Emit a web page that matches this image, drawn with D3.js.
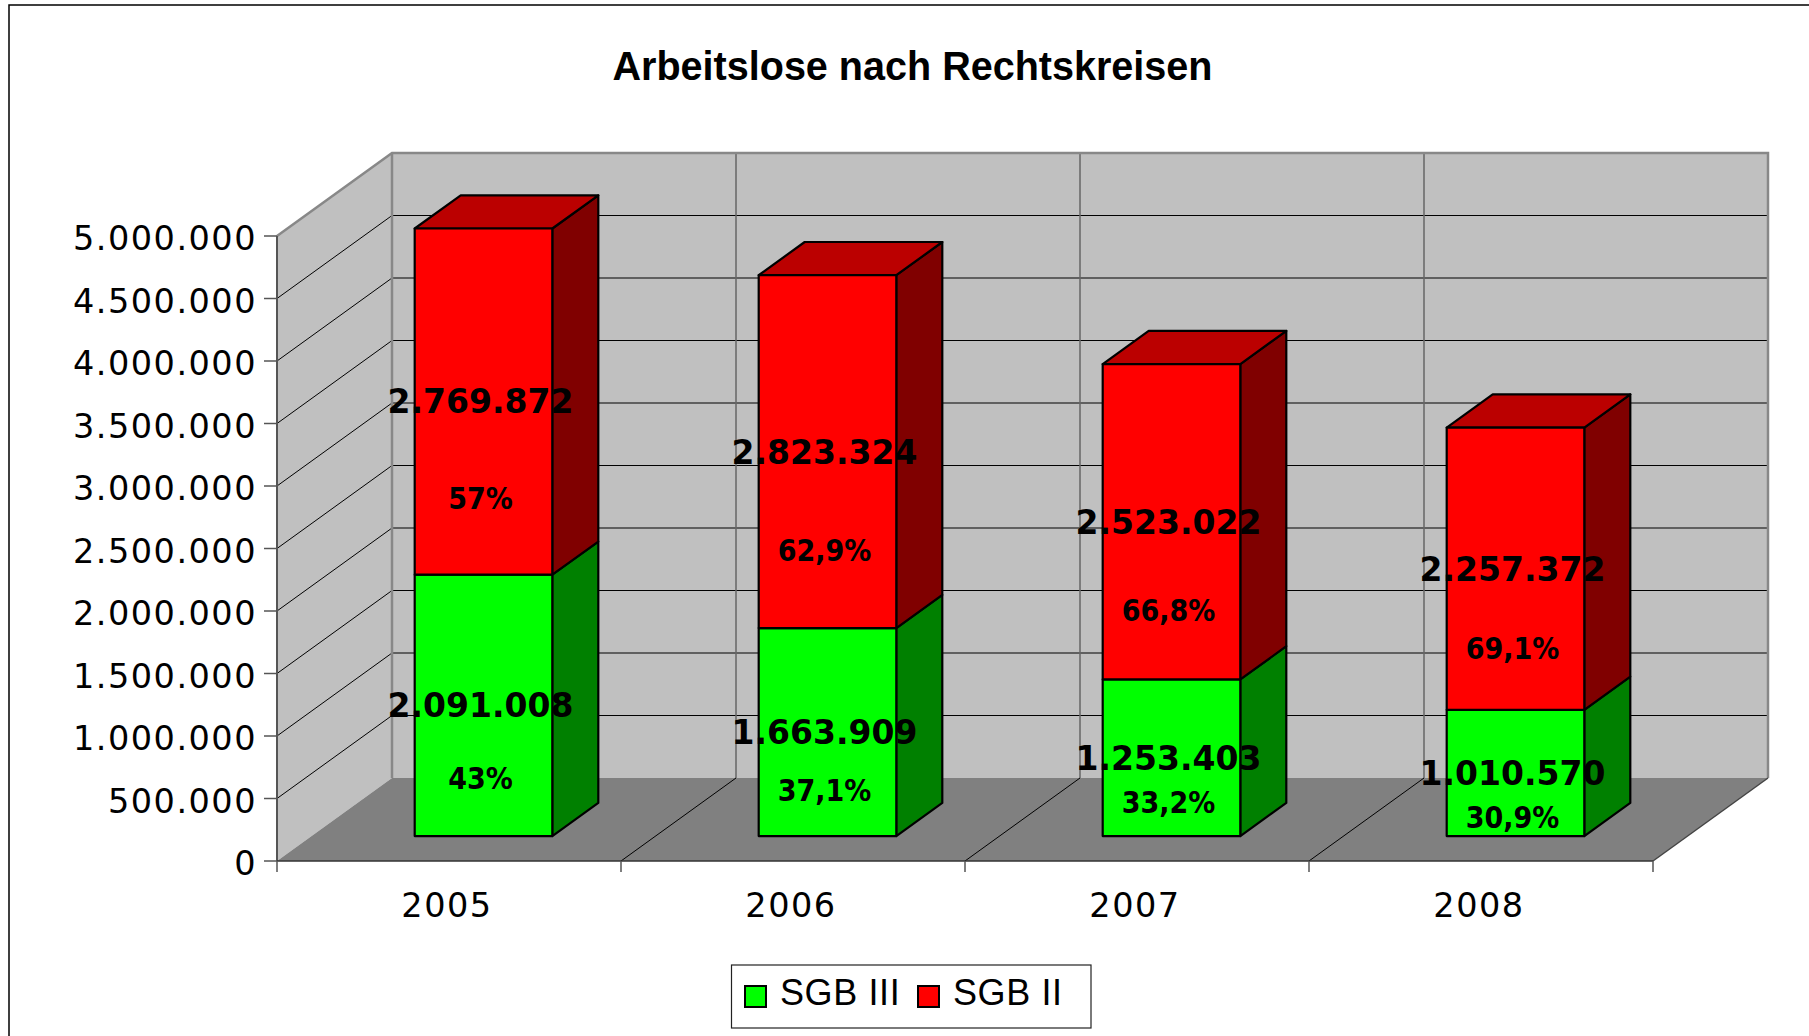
<!DOCTYPE html>
<html>
<head>
<meta charset="utf-8">
<title>Arbeitslose nach Rechtskreisen</title>
<script src="https://cdn.jsdelivr.net/npm/d3@7"></script>
<style>
  body { margin: 0; background: #fff; }
  svg { display: block; }
  .axis text { font-family: "DejaVu Sans", sans-serif; font-size: 33.5px; letter-spacing: 1.5px; fill: #000; }
  .val { font-family: "DejaVu Sans", sans-serif; font-weight: bold; font-size: 33px; fill: #000; }
  .pct { font-family: "DejaVu Sans", sans-serif; font-weight: bold; font-size: 30px; font-stretch: condensed; fill: #000; }
  .legend text { font-family: "Liberation Sans", Arial, sans-serif; font-size: 36px; letter-spacing: 0.6px; }
</style>
</head>
<body>
<div id="chart"></div>
<script>
var years = ["2005", "2006", "2007", "2008"];
var sgb3 = [2091008, 1663909, 1253403, 1010570];
var sgb2 = [2769872, 2823324, 2523022, 2257372];
var seriesNames = ["SGB III", "SGB II"];
var yTicks = d3.range(0, 5000001, 500000);

var W = 1809, H = 1036;
var DX = 115, DY = 83;          // depth offset of the back wall
var Z0 = 0.3, Z1 = 0.7;         // bar depth inside the floor

var de = d3.formatLocale({decimal: ",", thousands: ".", grouping: [3], currency: ["", " €"]});
var fmtNum = de.format(",d");
var fmtPct = de.format(".1~f");

var svg = d3.select("#chart").append("svg").attr("width", W).attr("height", H);

var x = d3.scaleBand().domain(years).range([277, 1653]).paddingInner(0.6).paddingOuter(0.3);
var y = d3.scaleLinear().domain([0, 5000000]).range([861, 236]);
var step = x.step();
var x0 = x.range()[0], x1 = x.range()[1];
var vMax = y.domain()[1];

function P(px, v, z) {
  return [px + z * DX, y(v) - z * DY];
}
function poly(pts) {
  return "M" + pts.map(function (p) { return p[0] + "," + p[1]; }).join("L") + "Z";
}
function line(a, b) {
  return "M" + a[0] + "," + a[1] + "L" + b[0] + "," + b[1];
}

// outer frame
svg.append("rect").attr("x", 9).attr("y", 5).attr("width", 1900).attr("height", 1100)
  .attr("fill", "none").attr("stroke", "#000").attr("stroke-width", 1.5);

svg.append("text").attr("x", 912.5).attr("y", 80)
  .attr("text-anchor", "middle")
  .attr("textLength", 600).attr("lengthAdjust", "spacingAndGlyphs")
  .style("font-family", "'Liberation Sans', Arial, sans-serif")
  .style("font-weight", "bold").style("font-size", "41px")
  .text("Arbeitslose nach Rechtskreisen");

// walls and floor
var walls = svg.append("g");
walls.append("path").attr("fill", "#c0c0c0")
  .attr("d", poly([P(x0, 0, 0), P(x0, vMax, 0), P(x0, vMax, 1), P(x0, 0, 1)]));
walls.append("path").attr("fill", "#c0c0c0")
  .attr("d", poly([P(x0, 0, 1), P(x0, vMax, 1), P(x1, vMax, 1), P(x1, 0, 1)]));
walls.append("path").attr("fill", "#808080")
  .attr("d", poly([P(x0, 0, 0), P(x1, 0, 0), P(x1, 0, 1), P(x0, 0, 1)]));

// gridlines
var grid = svg.append("g").attr("fill", "none");
yTicks.filter(function (v) { return v > 0 && v < vMax; }).forEach(function (v) {
  grid.append("path").attr("d", line(P(x0, v, 1), P(x1, v, 1))).attr("stroke", "#000").attr("stroke-width", 1.2);
  grid.append("path").attr("d", line(P(x0, v, 0), P(x0, v, 1))).attr("stroke", "#000").attr("stroke-width", 1);
});
d3.range(1, years.length).forEach(function (i) {
  var bx = x0 + i * step;
  grid.append("path").attr("d", line(P(bx, 0, 1), P(bx, vMax, 1))).attr("stroke", "#666").attr("stroke-width", 1.5);
  grid.append("path").attr("d", line(P(bx, 0, 0), P(bx, 0, 1))).attr("stroke", "#000").attr("stroke-width", 1);
});

// wall borders
var edges = svg.append("g").attr("fill", "none").attr("stroke", "#888").attr("stroke-width", 2.5);
edges.append("path").attr("d", "M" + P(x0, vMax, 0) + "L" + P(x0, vMax, 1) + "L" + P(x1, vMax, 1) + "L" + P(x1, 0, 1));
edges.append("path").attr("d", line(P(x0, 0, 1), P(x0, vMax, 1)));
svg.append("path").attr("fill", "none").attr("stroke", "#444").attr("stroke-width", 1.5)
  .attr("d", line(P(x1, 0, 0), P(x1, 0, 1)));

// y axis
var yAxis = svg.append("g").attr("class", "axis");
yAxis.append("path").attr("d", line(P(x0, 0, 0), P(x0, vMax, 0))).attr("stroke", "#555").attr("stroke-width", 2);
yTicks.forEach(function (v) {
  yAxis.append("path").attr("d", "M" + (x0 - 13) + "," + y(v) + "H" + x0).attr("stroke", "#555").attr("stroke-width", 1.5);
  yAxis.append("text").attr("x", 257).attr("y", y(v) + 14).attr("text-anchor", "end").text(fmtNum(v));
});

// x axis
var xAxis = svg.append("g").attr("class", "axis");
xAxis.append("path").attr("d", "M" + x0 + "," + y(0) + "H" + x1).attr("stroke", "#333").attr("stroke-width", 1.5);
d3.range(0, years.length + 1).forEach(function (i) {
  var bx = x0 + i * step;
  xAxis.append("path").attr("d", "M" + bx + "," + y(0) + "V" + (y(0) + 11)).attr("stroke", "#555").attr("stroke-width", 1.5);
});
years.forEach(function (yr) {
  xAxis.append("text").attr("x", x(yr) + x.bandwidth() / 2 - 2).attr("y", 917)
    .attr("text-anchor", "middle").text(yr);
});

// stacked 3d bars
var stackData = years.map(function (yr, i) { return {year: yr, s3: sgb3[i], s2: sgb2[i]}; });
var stack = d3.stack().keys(["s3", "s2"])(stackData);
var colors = [
  {front: "#00ff00", side: "#008000", top: "#00bb00"},
  {front: "#ff0000", side: "#800000", top: "#bb0000"}
];

var bars = svg.append("g").attr("stroke", "#000").attr("stroke-width", 2.2).attr("stroke-linejoin", "round");
var labels = [];
stack.forEach(function (layer, si) {
  layer.forEach(function (seg, i) {
    var bx0 = x(years[i]), bx1 = bx0 + x.bandwidth();
    var v0 = seg[0], v1 = seg[1];
    var c = colors[si];
    bars.append("path").attr("fill", c.side)
      .attr("d", poly([P(bx1, v0, Z0), P(bx1, v0, Z1), P(bx1, v1, Z1), P(bx1, v1, Z0)]));
    if (si === stack.length - 1) {
      bars.append("path").attr("fill", c.top)
        .attr("d", poly([P(bx0, v1, Z0), P(bx1, v1, Z0), P(bx1, v1, Z1), P(bx0, v1, Z1)]));
    }
    bars.append("path").attr("fill", c.front)
      .attr("d", poly([P(bx0, v0, Z0), P(bx1, v0, Z0), P(bx1, v1, Z0), P(bx0, v1, Z0)]));

    var total = seg.data.s3 + seg.data.s2;
    var top = P(bx0, v1, Z0)[1], bottom = P(bx0, v0, Z0)[1];
    var mid = (top + bottom) / 2;
    var segH = bottom - top;
    labels.push({
      cx: (bx0 + bx1) / 2 + Z0 * DX - 3,
      mid: mid,
      pctY: mid + Math.max(44, Math.min(104, segH * 0.28)),
      value: v1 - v0,
      pct: (v1 - v0) / total * 100
    });
  });
});

var lab = svg.append("g").attr("text-anchor", "middle");
labels.forEach(function (d) {
  lab.append("text").attr("class", "val").attr("x", d.cx).attr("y", d.mid).attr("dy", "0.36em").text(fmtNum(d.value));
  lab.append("text").attr("class", "pct").attr("x", d.cx).attr("y", d.pctY).attr("dy", "0.36em").text(fmtPct(d.pct) + "%");
});

// legend
var legend = svg.append("g").attr("class", "legend");
legend.append("rect").attr("x", 731.5).attr("y", 965).attr("width", 359.5).attr("height", 63)
  .attr("fill", "#fff").attr("stroke", "#222").attr("stroke-width", 1.2);
var legX = [745, 918];
seriesNames.forEach(function (name, i) {
  legend.append("rect").attr("x", legX[i]).attr("y", 986).attr("width", 21).attr("height", 21)
    .attr("fill", colors[i].front).attr("stroke", "#000").attr("stroke-width", 2);
  legend.append("text").attr("x", legX[i] + 35).attr("y", 1005).text(name);
});
</script>
</body>
</html>
